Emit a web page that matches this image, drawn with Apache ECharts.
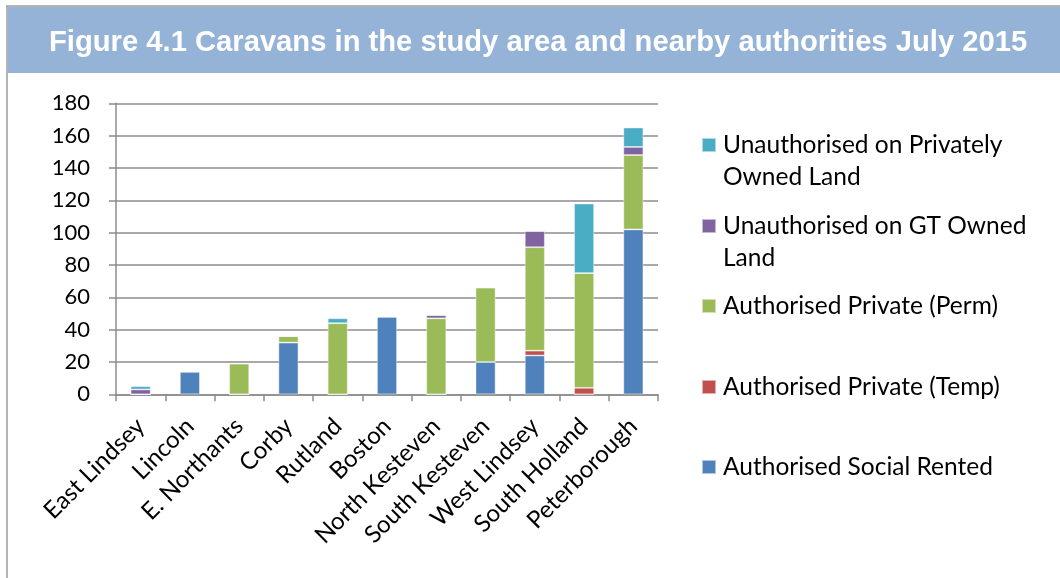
<!DOCTYPE html>
<html>
<head>
<meta charset="utf-8">
<script src="https://cdn.jsdelivr.net/npm/echarts@6/dist/echarts.min.js"></script>
<style>html,body{margin:0;padding:0;background:#fff;}#c{width:1060px;height:578px;}</style>
</head>
<body>
<div id="c"></div>
<script>
const titleText = 'Figure 4.1 Caravans in the study area and nearby authorities July 2015';
const categories = ['East Lindsey','Lincoln','E. Northants','Corby','Rutland','Boston','North Kesteven','South Kesteven','West Lindsey','South Holland','Peterborough'];
const socialRented   = [0, 14, 0, 32, 0, 48, 0, 20, 24, 0, 102];
const privateTemp    = [0, 0, 0, 0, 0, 0, 0, 0, 3, 4, 0];
const privatePerm    = [0, 0, 19, 4, 44, 0, 47, 46, 64, 71, 46];
const unauthGT       = [3, 0, 0, 0, 0, 0, 2, 0, 10, 0, 5];
const unauthPrivate  = [2, 0, 0, 0, 3, 0, 0, 0, 0, 43, 12];
const seriesNames = ['Authorised Social Rented','Authorised Private (Temp)','Authorised Private (Perm)','Unauthorised on GT Owned Land','Unauthorised on Privately Owned Land'];
const legendLines = {
  'Unauthorised on Privately Owned Land': ' \nUnauthorised on Privately\nOwned Land',
  'Unauthorised on GT Owned Land': ' \nUnauthorised on GT Owned\nLand'
};
const yTicks = [0, 20, 40, 60, 80, 100, 120, 140, 160, 180];

const colors = ['#4F81BD','#C0504D','#9BBB59','#8064A2','#4BACC6'];
const values = [socialRented, privateTemp, privatePerm, unauthGT, unauthPrivate];
const font = 'Lato';
const LH = 32;

const series = seriesNames.map((n, i) => ({
  name: n, type: 'bar', stack: 'all', barWidth: 20,
  itemStyle: { color: colors[i], borderColor: 'rgba(255,255,255,0.55)', borderWidth: 0.8 },
  data: values[i]
}));

const legendOrder = [4, 3, 2, 1, 0];
const iconCentres = [145, 226, 306, 387, 467];
const legends = legendOrder.map((si, k) => {
  const name = seriesNames[si];
  const two = !!legendLines[name];
  return {
    data: [name], left: 701, padding: 0,
    top: two ? iconCentres[k] - 1.5 * LH : iconCentres[k] - LH / 2,
    itemWidth: 14, itemHeight: 14, itemGap: 0,
    icon: 'rect',
    formatter: (nm) => legendLines[nm] || nm,
    textStyle: { fontFamily: font, fontSize: 24.5, color: '#000', lineHeight: LH, padding: [0, 0, 0, 2] }
  };
});

const chart = echarts.init(document.getElementById('c'), null, { renderer: 'canvas' });
chart.setOption({
  animation: false,
  backgroundColor: '#fff',
  graphic: [
    { type: 'rect', z: -1, shape: { x: 7, y: 6, width: 1080, height: 600 }, style: { fill: '#fff', stroke: '#9a9a9a', lineWidth: 1.5 } },
    { type: 'rect', z: -1, shape: { x: 7.75, y: 7, width: 1060, height: 66 }, style: { fill: '#95B3D7' } }
  ],
  title: {
    text: titleText, left: 49, top: 28, padding: 0,
    textStyle: { color: '#fff', fontFamily: '"Liberation Sans", Arial, sans-serif', fontWeight: 'bold', fontSize: 29.2 }
  },
  legend: legends,
  grid: { left: 116, right: 402, top: 103.3, bottom: 183.7, containLabel: false },
  xAxis: {
    type: 'category', data: categories,
    axisLine: { lineStyle: { color: '#8c8c8c', width: 1.5 } },
    axisTick: { show: true, length: 7, lineStyle: { color: '#8c8c8c', width: 1.5 } },
    axisLabel: { rotate: 45, interval: 0, margin: 28, fontFamily: font, fontSize: 24, color: '#000' }
  },
  yAxis: {
    type: 'value', min: yTicks[0], max: yTicks[yTicks.length - 1], interval: yTicks[1] - yTicks[0],
    axisLine: { show: true, lineStyle: { color: '#8c8c8c', width: 1.5 } },
    axisTick: { show: true, length: 7, lineStyle: { color: '#8c8c8c', width: 1.5 } },
    splitLine: { lineStyle: { color: '#8c8c8c', width: 1.5 } },
    axisLabel: { margin: 26, fontFamily: font, fontSize: 22, color: '#000' }
  },
  series: series
});
</script>
</body>
</html>
